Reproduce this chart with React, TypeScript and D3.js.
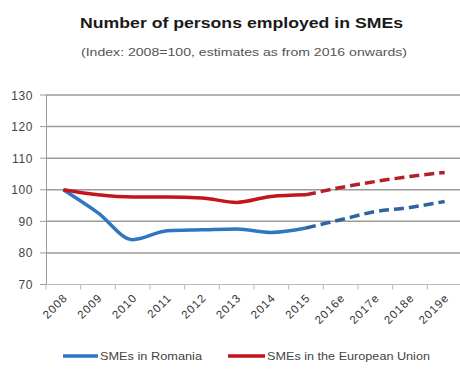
import React from "react";
import * as d3 from "d3";

const categories = ["2008", "2009", "2010", "2011", "2012", "2013", "2014", "2015", "2016e", "2017e", "2018e", "2019e"];
const romania = [100, 92.7, 84.2, 87.0, 87.3, 87.6, 86.5, 87.9, 90.5, 93.1, 94.4, 96.3];
const eu = [100, 98.4, 97.7, 97.7, 97.4, 96.0, 97.9, 98.4, 100.7, 102.6, 104.2, 105.5];
const yTicks = [70, 80, 90, 100, 110, 120, 130];
const lastActual = 7;

const W = 460;
const H = 370;
const font = "'Liberation Sans', Arial, sans-serif";

export default function App() {
  const x = d3.scaleBand<string>().domain(categories).range([46, 462]).padding(0);
  const y = d3.scaleLinear().domain([70, 130]).range([284.5, 95]);
  const cx = (i: number) => (x(categories[i]) as number) + x.bandwidth() / 2;

  const makePath = (vals: number[], from: number, to: number) => {
    const pts: [number, number][] = [];
    for (let i = from; i <= to; i++) pts.push([cx(i), y(vals[i])]);
    return d3.line().curve(d3.curveMonotoneX)(pts) as string;
  };

  const series = [
    { vals: romania, solid: "#2d78c0", dash: "#2e62a0", name: "SMEs in Romania" },
    { vals: eu, solid: "#c4141c", dash: "#b2202a", name: "SMEs in the European Union" },
  ];

  const boundaries = categories.map((c) => x(c) as number).concat([462]);

  return (
    <svg width={W} height={H} style={{ position: "absolute", left: 0, top: 0, background: "#fff" }} fontFamily={font}>
      <text x={80} y={28} fontSize={15} fontWeight="bold" fill="#1a1a1a" textLength={323} lengthAdjust="spacingAndGlyphs">
        Number of persons employed in SMEs
      </text>
      <text x={81} y={56} fontSize={11} fill="#555" textLength={326} lengthAdjust="spacingAndGlyphs">
        (Index: 2008=100, estimates as from 2016 onwards)
      </text>

      {yTicks.map((t) => (
        <g key={t}>
          {t > 70 && <line x1={46} x2={460} y1={y(t)} y2={y(t)} stroke="#9a9a9a" strokeWidth={1.5} />}
          <line x1={40} x2={46} y1={y(t)} y2={y(t)} stroke="#9a9a9a" strokeWidth={1} />
          <text x={33} y={y(t) + 4.5} textAnchor="end" fontSize={12} fill="#444" letterSpacing={0.6}>
            {t}
          </text>
        </g>
      ))}
      <line x1={46.5} x2={46.5} y1={y(130)} y2={y(70)} stroke="#9a9a9a" strokeWidth={1} />
      <line x1={46} x2={460} y1={y(70)} y2={y(70)} stroke="#bbbbbb" strokeWidth={1} />
      {boundaries.map((b, i) => (
        <line key={i} x1={b} x2={b} y1={y(70)} y2={y(70) + 5} stroke="#bbbbbb" strokeWidth={1} />
      ))}
      {categories.map((c, i) => (
        <text
          key={c}
          transform={`translate(${cx(i) + 5},${y(70) + 14}) rotate(-45)`}
          textAnchor="end"
          fontSize={11.5}
          fill="#333"
          letterSpacing={1}
        >
          {c}
        </text>
      ))}

      {series.map((s) => (
        <g key={s.name}>
          <path d={makePath(s.vals, 0, lastActual)} fill="none" stroke={s.solid} strokeWidth={3.5} strokeLinejoin="round" />
          <path
            d={makePath(s.vals, lastActual, categories.length - 1)}
            fill="none"
            stroke={s.dash}
            strokeWidth={3.5}
            strokeDasharray="10 5"
          />
        </g>
      ))}

      <line x1={63} x2={98} y1={356} y2={356} stroke="#2d78c0" strokeWidth={3.5} />
      <text x={100} y={360} fontSize={11} fill="#444" textLength={102} lengthAdjust="spacingAndGlyphs">SMEs in Romania</text>
      <line x1={228} x2={265} y1={356} y2={356} stroke="#c4141c" strokeWidth={3.5} />
      <text x={267} y={360} fontSize={11} fill="#444" textLength={163} lengthAdjust="spacingAndGlyphs">SMEs in the European Union</text>
    </svg>
  );
}
